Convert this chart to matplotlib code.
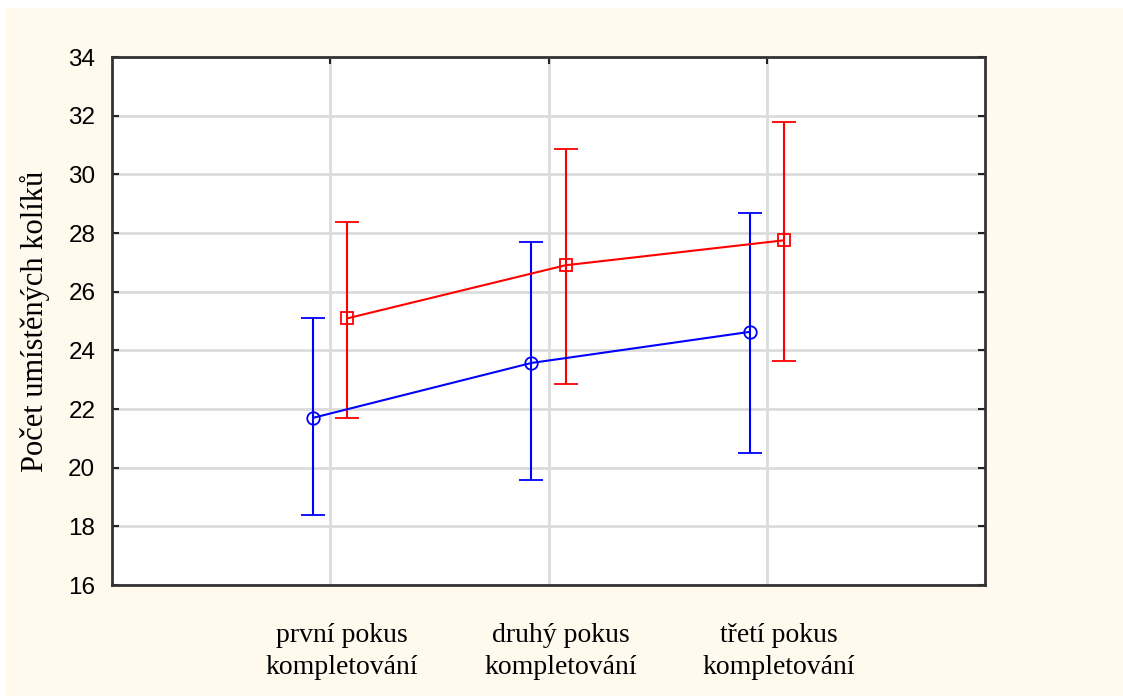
import numpy as np
import matplotlib
matplotlib.use('Agg')
from matplotlib import pyplot as plt
from matplotlib.patches import Rectangle
import matplotlib.transforms as mtransforms


categories = ['první pokus\nkompletování', 'druhý pokus\nkompletování', 'třetí pokus\nkompletování']

# blue series (circles)
blue_mean = [21.7, 23.57, 24.63]
blue_low = [18.37, 19.57, 20.5]
blue_high = [25.11, 27.68, 28.67]

# red series (squares)
red_mean = [25.09, 26.9, 27.75]
red_low = [21.69, 22.85, 23.64]
red_high = [28.39, 30.87, 31.8]

yticks = [16, 18, 20, 22, 24, 26, 28, 30, 32, 34]

fig = plt.figure(figsize=(11.23, 6.97), dpi=100)
fig.patch.set_facecolor('white')
fig.patches.append(Rectangle((6/1123, 1/697), 1, 1 - 9/697, transform=fig.transFigure,
                             facecolor='#fff9ee', edgecolor='none', zorder=-10))

ax = fig.add_axes([112/1123, 1 - 585/697, 873/1123, 528/697])
ax.set_facecolor('white')

x = np.arange(1, len(categories) + 1)
off = 0.078

bm = np.array(blue_mean)
rm = np.array(red_mean)
ax.errorbar(x - off, bm, yerr=[bm - np.array(blue_low), np.array(blue_high) - bm],
            color='#0000ff', lw=1.5, elinewidth=1.5, capsize=8.3, capthick=1.5,
            marker='o', ms=9, mfc='none', mec='#0000ff', mew=1.3, zorder=3)
ax.errorbar(x + off, rm, yerr=[rm - np.array(red_low), np.array(red_high) - rm],
            color='#ff0000', lw=1.5, elinewidth=1.5, capsize=8.3, capthick=1.5,
            marker='s', ms=8.5, mfc='none', mec='#ff0000', mew=1.3, zorder=3)

ax.set_xlim(0, 4)
ax.set_ylim(16, 34)
ax.set_xticks(x)
ax.set_xticklabels(categories, family='Liberation Serif', fontsize=20, linespacing=1.4)
ax.set_yticks(yticks)
ax.set_yticklabels([str(t) for t in yticks], family='Liberation Sans', fontsize=17.5)
ax.grid(True, color='#dcdcdc', lw=2, zorder=0)
ax.set_axisbelow(True)

ax.tick_params(axis='both', direction='in', length=5, width=1.5, color='#222222')
ax.tick_params(axis='x', top=True, bottom=False, pad=27)
ax.tick_params(axis='y', right=True, pad=12)

for lab in ax.get_xticklabels():
    lab.set_transform(lab.get_transform() + mtransforms.ScaledTranslation(12/100, 0, fig.dpi_scale_trans))

for sp in ax.spines.values():
    sp.set_color('#333333')
    sp.set_linewidth(2)

ax.set_ylabel('Počet umístěných kolíků', family='Liberation Serif', fontsize=22, labelpad=13)

fig.savefig('out.png', dpi=100, facecolor=fig.get_facecolor())
